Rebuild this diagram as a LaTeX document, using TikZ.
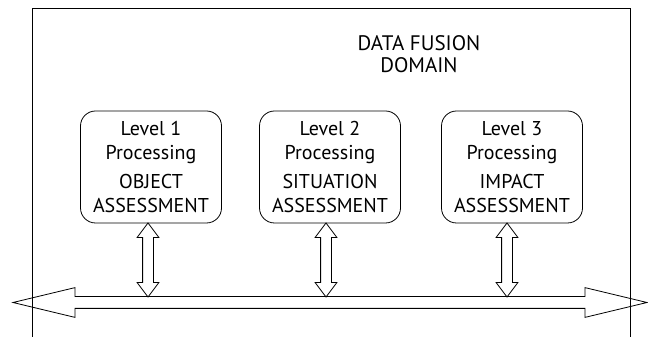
\documentclass[tikz,border=0pt]{standalone}
\usepackage{fontspec}
\setmainfont{PT Sans}
\usetikzlibrary{shapes.arrows, calc, positioning}

\begin{document}
\begin{tikzpicture}[x=1pt,y=1pt,line width=0.8pt,
                font=\fontsize{20}{24}\selectfont,
                level/.style={draw,rounded corners=15pt,minimum width=141pt,
                minimum height=112pt,align=center,inner sep=0pt},
                updown/.style={double arrow,draw,shape border rotate=90,
                double arrow tip angle=74,double arrow head extend=5.5pt,
                inner sep=5pt,minimum height=74pt}]
                \useasboundingbox (0,0) rectangle (648,337);
                % domain frame, open at the bottom
                \draw (32,0) -- (32,329) -- (630,329) -- (630,0);
                \node[align=center,font=\fontsize{21}{22}\selectfont] (title) at (419,283) {DATA FUSION\\DOMAIN};
                % the three levels
                \node[level] (lvl1) at (151,170) {Level 1\\Processing\\[5pt]OBJECT\\ASSESSMENT};
                \node[level] (lvl2) at (330,170) {Level 2\\Processing\\[5pt]SITUATION\\ASSESSMENT};
                \node[level] (lvl3) at (512,170) {Level 3\\Processing\\[5pt]IMPACT\\ASSESSMENT};
                % bus
                \node[double arrow,draw,double arrow tip angle=27,double arrow head extend=9pt,
                inner sep=5.5pt,minimum height=634pt] (bus) at (330,34.5) {};
                \foreach \i/\x in {1/148,2/326,3/507}
                \node[updown] (link\i) at (\x,77) {};
\end{tikzpicture}
\end{document}
